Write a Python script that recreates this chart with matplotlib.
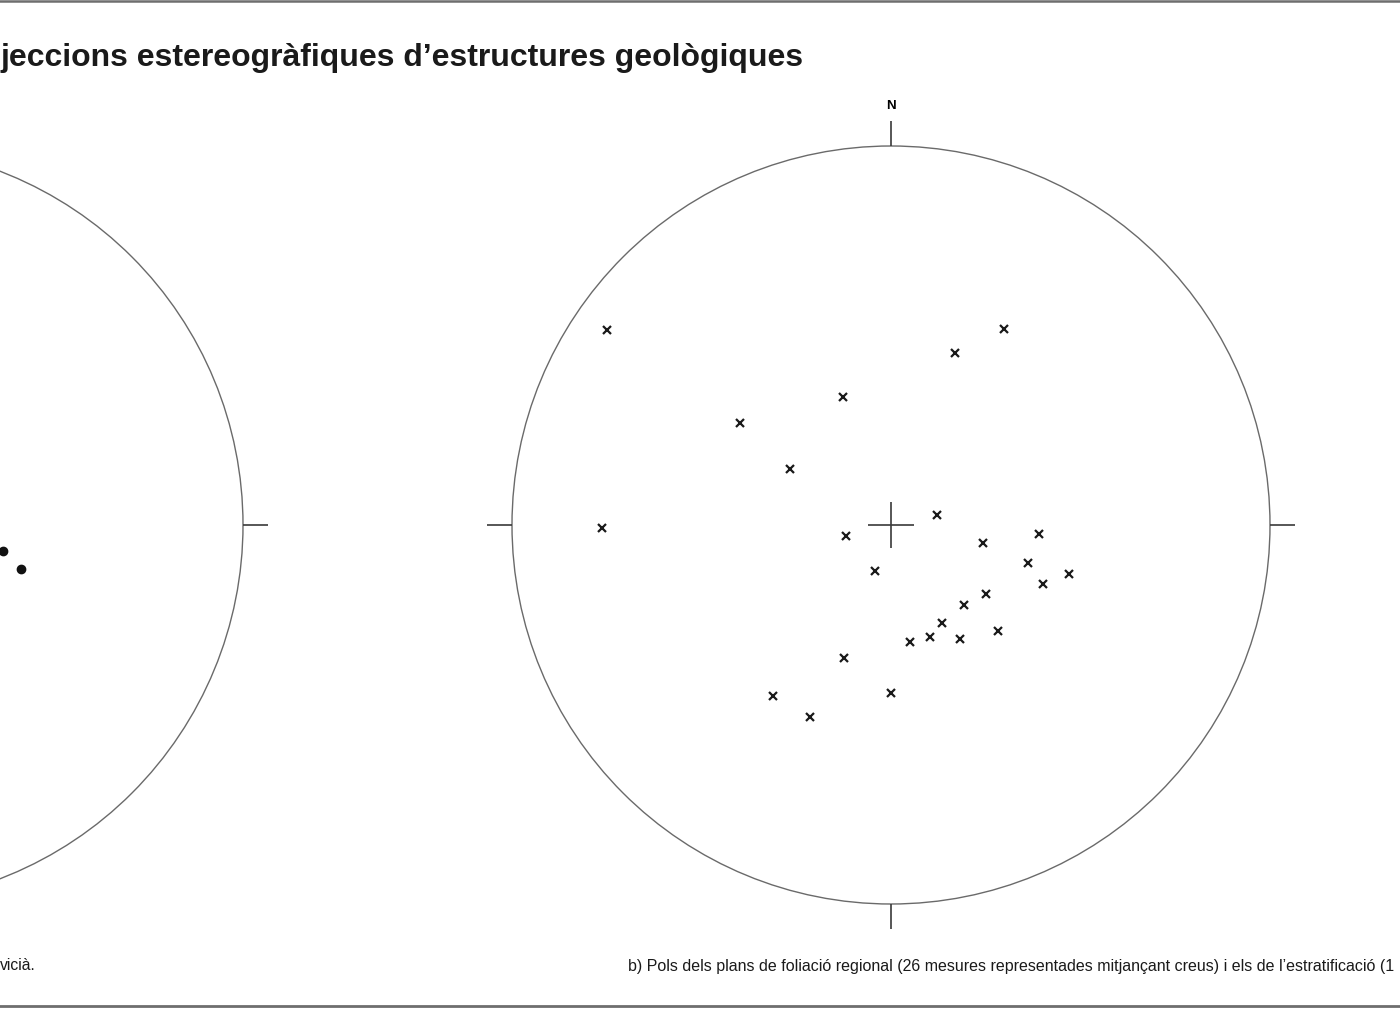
import numpy as np
import matplotlib
matplotlib.use("Agg")
import matplotlib.pyplot as plt
from matplotlib.patches import Circle

plt.rcParams['font.family'] = ['Liberation Sans', 'DejaVu Sans']

# ---- data (unit-net coordinates, x = East, y = North) ----
title = "jeccions estereogràfiques d\u2019estructures geològiques"
caption_a = "vicià."
caption_b = ("b) Pols dels plans de foliació regional (26 mesures representades "
             "mitjançant creus) i els de l\u2019estratificació (1")

# net b: poles of regional foliation (crosses)
foliation_x = [-0.749, -0.762, -0.398, -0.266, -0.126, 0.169, 0.298, 0.121, -0.120,
               -0.042, 0.244, 0.391, 0.361, 0.400, 0.470, 0.250, 0.193, 0.134,
               0.103, 0.050, 0.182, 0.283, -0.123, 0.000, -0.312, -0.214]
foliation_y = [0.515, -0.007, 0.268, 0.148, 0.339, 0.453, 0.517, 0.026, -0.028,
               -0.121, -0.048, -0.025, -0.099, -0.156, -0.129, -0.182, -0.212, -0.258,
               -0.295, -0.309, -0.300, -0.280, -0.350, -0.442, -0.451, -0.506]

# net a (partly visible): dots
net_a_x = [0.366, 0.414]
net_a_y = [-0.069, -0.117]

# ---- figure ----
W, H = 1400, 1016
fig = plt.figure(figsize=(W / 100, H / 100), dpi=100)

R_PX = 379.0
LIM = 1.12


def net_axes(cx, cy, north_label=True):
    half = LIM * R_PX
    ax = fig.add_axes([(cx - half) / W, (H - cy - half) / H, 2 * half / W, 2 * half / H])
    ax.set_xlim(-LIM, LIM)
    ax.set_ylim(-LIM, LIM)
    ax.set_aspect('equal')
    ax.axis('off')
    ax.add_patch(Circle((0, 0), 1.0, fill=False, ec='#6a6a6a', lw=1.0, clip_on=False))
    t = 0.065
    kw = dict(color='#3a3a3a', lw=1.2, solid_capstyle='butt', clip_on=False)
    ax.plot([0, 0], [1, 1 + t], **kw)
    ax.plot([0, 0], [-1, -1 - t], **kw)
    ax.plot([1, 1 + t], [0, 0], **kw)
    ax.plot([-1, -1 - t], [0, 0], **kw)
    if north_label:
        ax.text(0, 1.106, 'N', ha='center', va='center', fontsize=9.5,
                fontweight='bold', clip_on=False)
    c = 0.06
    ax.plot([-c, c], [0, 0], **kw)
    ax.plot([0, 0], [-c, c], **kw)
    return ax


ax_a = net_axes(-136, 525, north_label=False)
ax_a.plot(net_a_x, net_a_y, 'o', color='#111111', ms=6, clip_on=False)

ax_b = net_axes(891, 525)
ax_b.plot(foliation_x, foliation_y, 'x', color='#1a1a1a', ms=5.5, mew=1.6, clip_on=False)

# titles and captions
fig.text(1 / W, 1 - 58 / H, title, fontsize=23.0, fontweight='bold',
         ha='left', va='center', color='#1a1a1a')
fig.text(0 / W, 1 - 966 / H, caption_a, fontsize=11.3, ha='left', va='center',
         color='#1a1a1a')
fig.text(628 / W, 1 - 966 / H, caption_b, fontsize=11.5, ha='left', va='center',
         color='#1a1a1a')

# horizontal rules
fig.add_artist(plt.Line2D([0, 1], [1 - 1 / H, 1 - 1 / H], color='#6e6e6e', lw=1.8,
                          transform=fig.transFigure))
fig.add_artist(plt.Line2D([0, 1], [1 - 1006 / H, 1 - 1006 / H], color='#6e6e6e', lw=2.0,
                          transform=fig.transFigure))

fig.savefig('out.png', dpi=100, facecolor='white')
